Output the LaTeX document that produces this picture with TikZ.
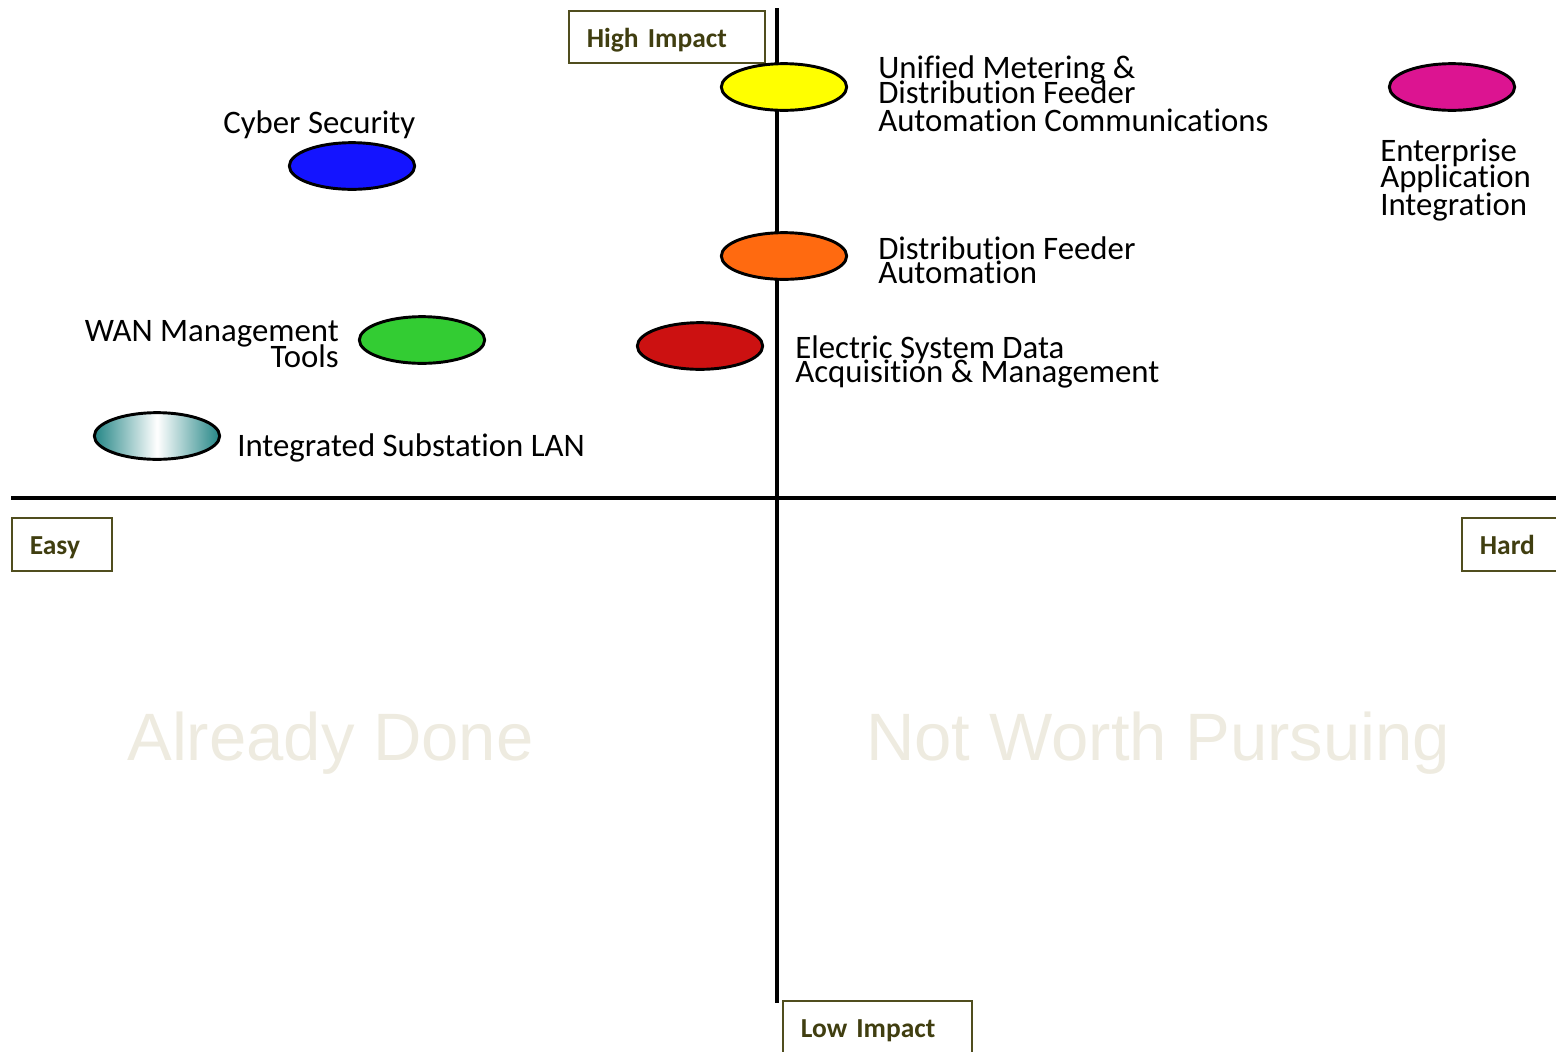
\documentclass[tikz,border=0pt]{standalone}
\usepackage{fontspec}
\usetikzlibrary{shapes.geometric}
\setmainfont[Ligatures=NoCommon]{Carlito}
\newfontfamily\markfont{Liberation Sans}
\definecolor{olive}{RGB}{64,62,16}
\definecolor{boxline}{RGB}{80,78,30}
\definecolor{markgray}{RGB}{238,235,224}
\definecolor{dotteal}{RGB}{36,134,134}
\definecolor{dotyellow}{RGB}{255,255,0}
\definecolor{dotblue}{RGB}{20,20,255}
\definecolor{dotorange}{RGB}{255,106,16}
\definecolor{dotgreen}{RGB}{51,204,51}
\definecolor{dotred}{RGB}{204,17,17}
\definecolor{dotmagenta}{RGB}{220,20,145}
\begin{document}
\begin{tikzpicture}[x=0.75pt,y=-0.75pt,
  axisline/.style={line width=2.4pt},
  dot/.style={ellipse,draw=black,line width=2.2pt,minimum width=94pt,minimum height=35pt,inner sep=0pt},
  lbl/.style={inner sep=0pt,align=left,font=\fontsize{24.6}{21}\selectfont},
  cornerbox/.style={draw=boxline,line width=1.3pt,anchor=north west,inner ysep=0pt,inner xsep=13.5pt,
    text height=15.5pt,text depth=0pt,
    align=left,text=olive,font=\fontsize{20.6}{24}\selectfont\bfseries},
  watermark/.style={text=markgray,font=\fontsize{50.3}{60}\selectfont\markfont,inner sep=0pt}]
\useasboundingbox (0,0) rectangle (1556,1051);
% axes
\coordinate (ytop) at (777,8);
\coordinate (ybot) at (777,1003);
\coordinate (xleft) at (11,498);
\coordinate (xright) at (1556,498);
\draw[axisline] (ytop) -- (ybot);
\draw[axisline] (xleft) -- (xright);
% quadrant labels
\node[watermark,anchor=west] (done) at (127,743) {Already Done};
\node[watermark,anchor=west] (notworth) at (866,743) {Not Worth Pursuing};
% axis end labels
\node[cornerbox,minimum width=147pt,minimum height=39pt,text width=120pt] (high) at (568,10) {High Impact};
\node[cornerbox,minimum width=75pt,minimum height=40pt,text width=48pt] (easy) at (11,517) {Easy};
\node[cornerbox,minimum width=75pt,minimum height=40pt,text width=48pt] (hard) at (1461,517) {Hard};
\node[cornerbox,minimum width=142pt,minimum height=40pt,text width=115pt] (low) at (782,1000) {Low Impact};
% initiatives
\node[dot,fill=dotyellow] (umdfa) at (784,87) {};
\node[dot,fill=dotblue] (cyber) at (352,166) {};
\node[dot,fill=dotorange] (dfa) at (784,256) {};
\node[dot,fill=dotgreen] (wan) at (422,340) {};
\node[dot,fill=dotred] (esdam) at (700,346) {};
\node[dot,left color=dotteal,right color=dotteal,middle color=white] (islan) at (157,436) {};
\node[dot,fill=dotmagenta] (eai) at (1452,87) {};
% initiative names
\node[lbl,anchor=north west] (umdfat) at (878,55) {Unified Metering \&\\[-3pt]Distribution Feeder\\Automation Communications};
\node[lbl,anchor=north west] (cybert) at (223,110) {Cyber Security};
\node[lbl,anchor=north west] (eait) at (1380,139) {Enterprise\\[-3pt]Application\\Integration};
\node[lbl,anchor=north west] (dfat) at (878,236) {Distribution Feeder\\[-3pt]Automation};
\node[lbl,anchor=north east,align=right] (want) at (339,320) {WAN Management\\[-3pt]Tools};
\node[lbl,anchor=north west] (esdamt) at (795,335) {Electric System Data\\[-3pt]Acquisition \& Management};
\node[lbl,anchor=north west] (islant) at (237,433) {Integrated Substation LAN};
\end{tikzpicture}
\end{document}
